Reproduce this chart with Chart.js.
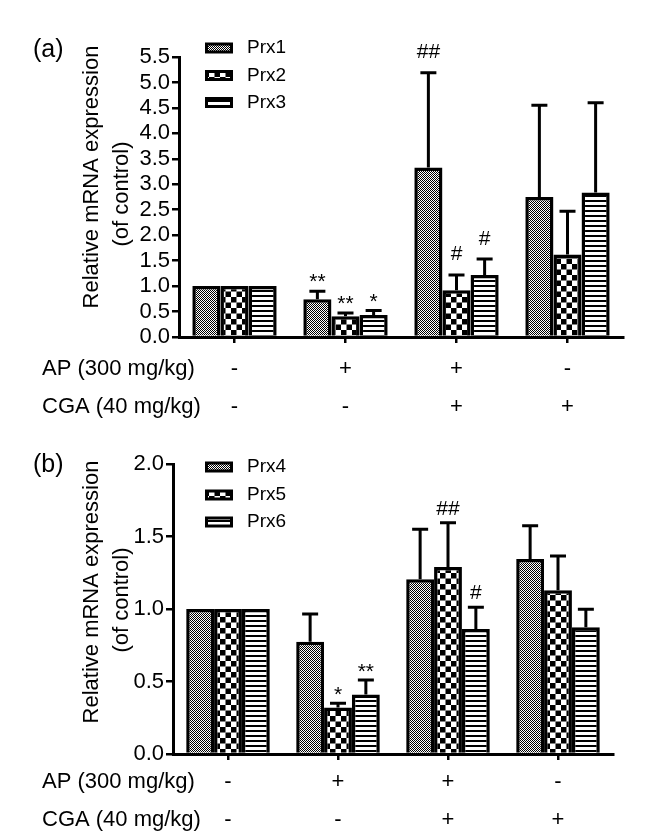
<!DOCTYPE html>
<html>
<head>
<meta charset="utf-8">
<script src="https://cdn.jsdelivr.net/npm/chart.js@4.4.1/dist/chart.umd.min.js"></script>
<style>
  body { margin: 0; background: #fff; }
  canvas { display: block; position: absolute; left: 0; }
</style>
</head>
<body>
<canvas id="chartA" width="649" height="430" style="top:0"></canvas>
<canvas id="chartB" width="649" height="405" style="top:430px"></canvas>
<script>
// treatment rows under each panel
const apRow = ['-', '+', '+', '-'];
const cgaRow = ['-', '-', '+', '+'];
const rowNames = ['AP (300 mg/kg)', 'CGA (40 mg/kg)'];

// panel (a)
const namesA = ['Prx1', 'Prx2', 'Prx3'];
const prx1 = [1.0, 0.74, 3.33, 2.75];
const prx1Err = [0, 0.16, 1.86, 1.80];
const prx2 = [1.0, 0.41, 0.92, 1.62];
const prx2Err = [0, 0.06, 0.30, 0.85];
const prx3 = [1.0, 0.43, 1.22, 2.84];
const prx3Err = [0, 0.09, 0.31, 1.76];
const marksA = [['', '**', '##', ''], ['', '**', '#', ''], ['', '*', '#', '']];

// panel (b)
const namesB = ['Prx4', 'Prx5', 'Prx6'];
const prx4 = [1.0, 0.775, 1.205, 1.345];
const prx4Err = [0, 0.19, 0.345, 0.23];
const prx5 = [1.0, 0.32, 1.29, 1.13];
const prx5Err = [0, 0.03, 0.305, 0.235];
const prx6 = [1.0, 0.41, 0.862, 0.874];
const prx6Err = [0, 0.10, 0.15, 0.125];
const marksB = [['', '', '', ''], ['', '*', '##', ''], ['', '**', '#', '']];

const FONT = '"Liberation Sans", Arial, sans-serif';
Chart.defaults.color = '#000';
Chart.defaults.font.family = FONT;

function makePattern(kind) {
  const c = document.createElement('canvas');
  const g = c.getContext('2d');
  if (kind === 'fine') {
    c.width = 2; c.height = 2;
    g.fillStyle = '#fff'; g.fillRect(0, 0, 2, 2);
    g.fillStyle = '#000'; g.fillRect(0, 0, 1, 1); g.fillRect(1, 1, 1, 1);
  } else if (kind === 'checker') {
    c.width = 11; c.height = 11;
    g.fillStyle = '#fff'; g.fillRect(0, 0, 11, 11);
    g.fillStyle = '#000'; g.fillRect(0, 0, 5.5, 5.5); g.fillRect(5.5, 5.5, 5.5, 5.5);
  } else {
    c.width = 5; c.height = 5;
    g.fillStyle = '#fff'; g.fillRect(0, 0, 5, 5);
    g.fillStyle = '#000'; g.fillRect(0, 0, 5, 2);
  }
  return g.createPattern(c, 'repeat');
}
const patterns = [makePattern('fine'), makePattern('checker'), makePattern('lines')];

const extras = {
  id: 'extras',
  afterDatasetsDraw(chart, args, o) {
    const ctx = chart.ctx;
    const ys = chart.scales.y;
    ctx.save();
    chart.data.datasets.forEach((ds, i) => {
      chart.getDatasetMeta(i).data.forEach((bar, j) => {
        const err = ds.errors[j];
        const top = ys.getPixelForValue(ds.data[j] + err);
        if (err) {
          ctx.strokeStyle = '#000';
          ctx.lineWidth = 3;
          ctx.beginPath();
          ctx.moveTo(bar.x, bar.y);
          ctx.lineTo(bar.x, top);
          ctx.moveTo(bar.x - 8, top);
          ctx.lineTo(bar.x + 8, top);
          ctx.stroke();
        }
        const m = ds.marks[j];
        if (m) {
          ctx.fillStyle = '#000';
          ctx.font = '21px ' + FONT;
          ctx.textAlign = 'center';
          ctx.textBaseline = 'alphabetic';
          ctx.fillText(m, bar.x, top - (m[0] === '#' ? o.hashOff : o.starOff));
        }
      });
    });
    ctx.restore();
  },
  afterDraw(chart, args, o) {
    const ctx = chart.ctx;
    const area = chart.chartArea;
    ctx.save();
    ctx.fillStyle = '#000';
    // panel letter
    ctx.font = '25px ' + FONT;
    ctx.textAlign = 'left';
    ctx.textBaseline = 'middle';
    ctx.fillText(o.letter, 33, o.letterY);
    // legend
    chart.data.datasets.forEach((ds, i) => {
      const y = o.legendY[i];
      ctx.fillStyle = ds.backgroundColor;
      ctx.fillRect(206.5, y - 4, 25, 8);
      ctx.strokeStyle = '#000';
      ctx.lineWidth = 3;
      ctx.strokeRect(206.5, y - 4, 25, 8);
      ctx.fillStyle = '#000';
      ctx.font = '19px ' + FONT;
      ctx.fillText(ds.label, 247, y);
    });
    // treatment row names
    ctx.font = '22px ' + FONT;
    ctx.fillText(rowNames[0], 42, area.bottom + o.rowOff);
    ctx.fillText(rowNames[1], 42, area.bottom + o.rowOff + 38);
    // y axis title
    ctx.textAlign = 'center';
    const lines = ['Relative mRNA expression', '(of control)'];
    lines.forEach((t, k) => {
      ctx.save();
      ctx.translate(o.titleX[k], o.titleY[k]);
      ctx.rotate(-Math.PI / 2);
      ctx.fillText(t, 0, 0);
      ctx.restore();
    });
    ctx.restore();
  }
};

function makePanel(id, names, values, errs, marks, yMax, axisW, pad, xH, tickPad, o) {
  return new Chart(document.getElementById(id), {
    type: 'bar',
    data: {
      labels: apRow.map((a, i) => [a, cgaRow[i]]),
      datasets: names.map((n, i) => ({
        label: n,
        data: values[i],
        errors: errs[i],
        marks: marks[i],
        backgroundColor: patterns[i],
        borderColor: '#000',
        borderWidth: 3.5,
        categoryPercentage: 0.76,
        barPercentage: 1
      }))
    },
    options: {
      responsive: false,
      animation: false,
      layout: { padding: pad },
      plugins: { legend: { display: false }, tooltip: { enabled: false }, extras: o },
      scales: {
        x: {
          z: 1,
          grid: { offset: false, drawOnChartArea: false, color: '#000', lineWidth: 2.5, tickLength: 6 },
          border: { color: '#000', width: 3 },
          ticks: { font: { size: 22, lineHeight: 38 / 22 }, padding: tickPad, maxRotation: 0, autoSkip: false },
          afterFit: s => { s.height = xH; }
        },
        y: {
          z: 1,
          min: 0,
          max: yMax,
          grid: { drawOnChartArea: false, color: '#000', lineWidth: 2.5, tickLength: 7 },
          border: { color: '#000', width: 3 },
          ticks: { stepSize: 0.5, autoSkip: false, padding: 2, font: { size: 22 }, callback: v => v.toFixed(1) },
          afterFit: s => { s.width = axisW; }
        }
      }
    },
    plugins: [extras]
  });
}

makePanel('chartA', namesA, [prx1, prx2, prx3], [prx1Err, prx2Err, prx3Err], marksA,
  5.5, 179, { top: 57, right: 26, left: 0, bottom: 0 }, 93, 7,
  { letter: '(a)', letterY: 50, legendY: [48, 75.5, 102.5], rowOff: 32,
    titleX: [92, 122], titleY: [177, 194], hashOff: 14.5, starOff: 3 });

makePanel('chartB', namesB, [prx4, prx5, prx6], [prx4Err, prx5Err, prx6Err], marksB,
  2.0, 173, { top: 34, right: 36, left: 0, bottom: 0 }, 81, 3,
  { letter: '(b)', letterY: 35, legendY: [37, 65, 92], rowOff: 28,
    titleX: [92, 122], titleY: [162, 170], hashOff: 8, starOff: 2 });
</script>
</body>
</html>
